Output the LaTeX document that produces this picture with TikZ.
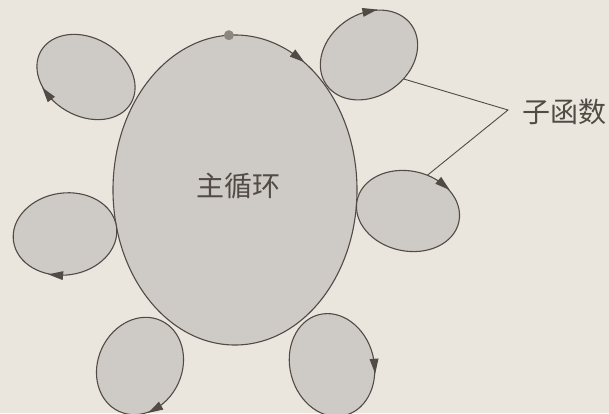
\documentclass[tikz,border=0pt]{standalone}
\usepackage{fontspec}
\newfontfamily\cjk{Noto Sans CJK SC}
\usetikzlibrary{decorations.markings}
\definecolor{paperc}{RGB}{234,230,222}
\definecolor{bodyc}{RGB}{206,203,199}
\definecolor{edgec}{RGB}{82,74,68}
\definecolor{dotc}{RGB}{140,134,128}
\tikzset{
	loopline/.style={draw=edgec, fill=bodyc, line width=1.1pt},
	flow/.style={postaction={decorate, decoration={markings, mark=at position #1 with {\fill[edgec] (-8pt,0) -- (7pt,4.5pt) -- (7pt,-4.5pt) -- cycle;}}}},
	tag/.style 2 args={postaction={decorate, decoration={markings, mark=at position #1 with {\coordinate (#2);}}}},
	txt/.style={font=\cjk\fontsize{28}{28}\selectfont, text=edgec, inner sep=0pt},
}
\begin{document}
\begin{tikzpicture}[x=1pt,y=1pt]
	\fill[paperc] (0,0) rectangle (609,413);
	\path[use as bounding box] (0,0) rectangle (609,413);
	\draw[loopline, flow=0.172, tag={0.257}{top}] (235,223) ellipse [x radius=122pt, y radius=155pt];
	\fill[dotc] (top) circle (5pt);
	\node[txt] (mainTxt) at (238,227) {主循环};
	\draw[loopline, flow=0.66] (86,336) ellipse [x radius=52pt, y radius=39pt, rotate=-30];
	\draw[loopline, flow=0.70] (65,179) ellipse [x radius=52pt, y radius=41pt, rotate=8];
	\draw[loopline, flow=0.63] (140,47) ellipse [x radius=50pt, y radius=42pt, rotate=65];
	\draw[loopline, flow=0.21] (332,48) ellipse [x radius=52pt, y radius=42pt, rotate=-75];
	\draw[loopline, flow=0.145, tag={0.21}{rmEnd}] (408,202) ellipse [x radius=52pt, y radius=40pt, rotate=-12];
	\draw[loopline, flow=0.16, tag={0.80}{trEnd}] (369,358) ellipse [x radius=52pt, y radius=41pt, rotate=35];
	\coordinate (fork) at (508,303);
	\node[txt, anchor=west] (subs) at (522,301) {子函数};
	\draw[edgec, line width=0.9pt] (trEnd) -- (fork) -- (rmEnd);
\end{tikzpicture}
\end{document}
